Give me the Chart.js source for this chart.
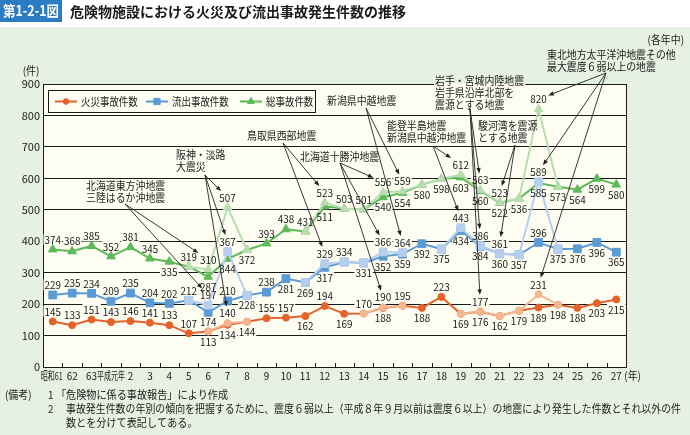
<!DOCTYPE html>
<html lang="ja">
<head>
<meta charset="utf-8">
<title>危険物施設における火災及び流出事故発生件数の推移</title>
<script src="https://cdn.jsdelivr.net/npm/chart.js@4.4.1/dist/chart.umd.min.js"></script>
<style>
  html, body { margin: 0; padding: 0; }
  body { width: 690px; height: 435px; background: #e6f1e1; position: relative; overflow: hidden; }
  #head { position: absolute; left: 0; top: 0; width: 690px; height: 27px; background: #fff; }
  #myChart { position: absolute; left: 0; top: 0; }
</style>
</head>
<body>
<div id="head"></div>
<canvas id="myChart" width="690" height="435"></canvas>
<script>
// 横軸（年）
var years = ['昭和61','62','63','平成元年','2','3','4','5','6','7','8','9','10','11','12','13',
             '14','15','16','17','18','19','20','21','22','23','24','25','26','27'];
// 地震分を除いた件数
var fire  = [145,133,151,143,146,141,133,107,113,134,144,155,157,162,194,169,170,188,195,188,223,169,176,162,179,189,198,188,203,215];
var leak  = [229,235,234,209,235,204,202,212,174,210,228,238,281,269,317,334,331,352,359,392,375,434,384,360,357,396,375,376,396,365];
var total = [374,368,385,352,381,345,335,319,287,344,372,393,438,431,511,503,501,540,554,580,598,603,560,522,536,585,573,564,599,580];
// 地震分を含めた件数（地震のあった年の前後だけ）
var fireEq  = [null,null,null,null,null,null,null,null,113,140,144,null,null,null,null,null,170,190,195,null,null,169,177,162,179,231,198,null,null,null];
var leakEq  = [null,null,null,null,null,null,null,212,197,367,228,null,null,269,329,334,331,366,364,null,375,443,386,361,357,589,375,null,null,null];
var totalEq = [null,null,null,null,null,null,null,319,310,507,372,null,null,431,523,503,501,556,559,580,598,612,563,523,536,820,573,null,null,null];
// 縦軸
var yMin = 0, yMax = 900, yStep = 100;

// 数値ラベルの位置 a:上 b:下
var fireLab  = 'aaaaaaaa' + 'bbbaabab' + 'ababab' + 'bbbbbbbb';
var leakLab  = 'aaaaaaaa' + 'bababbba' + 'bbbbbbbbb' + 'abbbb';
var totalLab = 'aaaaaa' + 'babbbaaa' + 'baa' + 'bbbbbbbbbbbbb';

var CREAM = '#fdfdf1', GREEN = '#e6f1e1', INK = '#1a1a1a';
var FONT = '"Noto Sans CJK JP", "Noto Sans", sans-serif';

// 地震の注記
var notes = [
  { lines: ['北海道東方沖地震', '三陸はるか沖地震'], x: 86, y: 186, src: [125, 204], to: [['totalEq', 8], ['leakEq', 8]] },
  { lines: ['阪神・淡路', '大震災'], x: 176, y: 155, src: [205, 175], to: [['totalEq', 9], ['leakEq', 9], ['fireEq', 9]] },
  { lines: ['鳥取県西部地震'], x: 247, y: 136, src: [283, 143], to: [['totalEq', 14], ['leakEq', 14]] },
  { lines: ['北海道十勝沖地震'], x: 300, y: 157, src: [340, 163], to: [['totalEq', 17], ['leakEq', 17], ['fireEq', 17]] },
  { lines: ['新潟県中越地震'], x: 327, y: 101, src: [366, 108], to: [['totalEq', 18], ['leakEq', 18]] },
  { lines: ['能登半島地震', '新潟県中越沖地震'], x: 387, y: 126, src: [433, 146], to: [['totalEq', 21], ['leakEq', 21]] },
  { lines: ['岩手・宮城内陸地震', '岩手県沿岸北部を', '震源とする地震'], x: 435, y: 81, src: [470, 109], to: [['totalEq', 22], ['leakEq', 22], ['fireEq', 22]] },
  { lines: ['駿河湾を震源', 'とする地震'], x: 478, y: 126, src: [515, 145], to: [['totalEq', 23], ['leakEq', 23]] },
  { lines: ['東北地方太平洋沖地震その他', '最大震度６弱以上の地震'], x: 547, y: 55, src: [606, 73], to: [['totalEq', 25], ['leakEq', 25], ['fireEq', 25]] }
];

function setFont(ctx, size, weight) { ctx.font = (weight || 'normal') + ' ' + size + 'px ' + FONT; }
function measure(ctx, s, size, sx) {
  ctx.save(); setFont(ctx, size); var w = ctx.measureText(s).width * sx; ctx.restore(); return w;
}
// 横に詰めた文字を書く
function put(ctx, s, x, y, o) {
  o = o || {};
  var size = o.size || 11, sx = o.sx || 0.9;
  ctx.save();
  setFont(ctx, size, o.weight);
  var w = ctx.measureText(s).width * sx;
  if (o.maxW && w > o.maxW) { sx = sx * o.maxW / w; w = o.maxW; }
  var left = o.align === 'center' ? x - w / 2 : (o.align === 'right' ? x - w : x);
  ctx.translate(left, y);
  ctx.scale(sx, 1);
  ctx.textAlign = 'left';
  ctx.textBaseline = 'middle';
  ctx.fillStyle = o.color || INK;
  ctx.fillText(s, 0, 0);
  ctx.restore();
  return w;
}

// 点の上下に置く数値ラベル
function valueLabels(chart) {
  var ctx = chart.ctx, out = {};
  chart.data.datasets.forEach(function (ds, di) {
    var meta = chart.getDatasetMeta(di);
    ds.data.forEach(function (v, i) {
      var p = ds.labPos[i];
      if (v == null || (p !== 'a' && p !== 'b')) return;
      var el = meta.data[i];
      var t = String(v);
      out[ds.key + ':' + i] = { t: t, cx: el.x, cy: p === 'a' ? el.y - 10 : el.y + 10, w: measure(ctx, t, 11, 0.9), h: 10 };
    });
  });
  return out;
}

function arrow(ctx, sx, sy, b) {
  var dx = b.cx - sx, dy = b.cy - sy;
  var hw = b.w / 2 + 1.5, hh = b.h / 2 + 1.5;
  var t = Math.max(1 - hw / Math.max(Math.abs(dx), 1e-6), 1 - hh / Math.max(Math.abs(dy), 1e-6));
  var ex = sx + dx * t, ey = sy + dy * t;
  var a = Math.atan2(ey - sy, ex - sx), c = Math.cos(a), s = Math.sin(a);
  ctx.beginPath(); ctx.moveTo(sx, sy); ctx.lineTo(ex - c * 3, ey - s * 3); ctx.stroke();
  ctx.beginPath();
  ctx.moveTo(ex, ey);
  ctx.lineTo(ex - 5.5 * c + 2.2 * s, ey - 5.5 * s - 2.2 * c);
  ctx.lineTo(ex - 5.5 * c - 2.2 * s, ey - 5.5 * s + 2.2 * c);
  ctx.closePath(); ctx.fill();
}

var decor = {
  id: 'decor',
  beforeDraw: function (chart) {
    var ctx = chart.ctx, a = chart.chartArea;
    ctx.save();
    ctx.fillStyle = CREAM;
    ctx.fillRect(a.left, a.top, a.right - a.left, a.bottom - a.top);
    ctx.restore();
  },
  beforeDatasetsDraw: function (chart) {
    var ctx = chart.ctx, a = chart.chartArea;
    chart.$labs = valueLabels(chart);
    ctx.save();
    ctx.fillStyle = CREAM;
    Object.keys(chart.$labs).forEach(function (k) {
      var b = chart.$labs[k];
      ctx.fillRect(b.cx - b.w / 2 - 1, b.cy - 5.5, b.w + 2, 11);
    });
    // 注記の下地（枠線を隠す）
    notes.forEach(function (n) {
      n.lines.forEach(function (s, li) {
        var w = measure(ctx, s, 11, 0.9), y = n.y + li * 12;
        var rx = n.x - 1, ry = y - 6, rw = w + 2, rh = 12;
        ctx.fillStyle = GREEN; ctx.fillRect(rx, ry, rw, rh);
        var y0 = Math.max(ry, a.top - 0.5), y1 = Math.min(ry + rh, a.bottom);
        if (y1 > y0) { ctx.fillStyle = CREAM; ctx.fillRect(rx, y0, rw, y1 - y0); }
      });
    });
    ctx.restore();
  },
  afterDatasetsDraw: function (chart) {
    var ctx = chart.ctx, a = chart.chartArea, xs = chart.scales.x;
    ctx.save();
    // 右の枠
    ctx.strokeStyle = INK; ctx.lineWidth = 1;
    ctx.beginPath(); ctx.moveTo(Math.round(a.right) + 0.5, a.top); ctx.lineTo(Math.round(a.right) + 0.5, a.bottom); ctx.stroke();
    // 下の目盛
    for (var k = 1; k < years.length; k++) {
      var tx = Math.round((xs.getPixelForValue(k - 1) + xs.getPixelForValue(k)) / 2) + 0.5;
      ctx.beginPath(); ctx.moveTo(tx, a.bottom); ctx.lineTo(tx, a.bottom - 4); ctx.stroke();
    }
    // 数値
    Object.keys(chart.$labs).forEach(function (k) {
      var b = chart.$labs[k];
      put(ctx, b.t, b.cx, b.cy, { align: 'center' });
    });
    // 注記と矢印
    ctx.strokeStyle = '#222'; ctx.fillStyle = '#222'; ctx.lineWidth = 0.9;
    notes.forEach(function (n) {
      n.to.forEach(function (t) {
        var b = chart.$labs[t[0] + ':' + t[1]];
        if (b) arrow(ctx, n.src[0], n.src[1], b);
      });
      n.lines.forEach(function (s, li) { put(ctx, s, n.x, n.y + li * 12); });
    });
    // 凡例
    var lx = 48.5, ly = 90.5;
    ctx.fillStyle = CREAM; ctx.fillRect(lx, ly, 267, 22);
    ctx.strokeStyle = INK; ctx.lineWidth = 1; ctx.strokeRect(lx, ly, 267, 22);
    var items = [[0, '火災事故件数', 55, 81], [1, '流出事故件数', 146, 172], [2, '総事故件数', 240, 266]];
    items.forEach(function (it) {
      var ds = chart.data.datasets[it[0]];
      ctx.strokeStyle = ds.borderColor; ctx.fillStyle = ds.borderColor; ctx.lineWidth = 2;
      ctx.beginPath(); ctx.moveTo(it[2], 101.5); ctx.lineTo(it[2] + 22, 101.5); ctx.stroke();
      ctx.lineWidth = 1;
      Chart.helpers.drawPoint(ctx, { pointStyle: ds.pointStyle, radius: ds.pointRadius * 0.8, rotation: 0, borderWidth: 1 }, it[2] + 11, 101.5);
      put(ctx, it[1], it[3], 101.5, { sx: 0.86 });
    });
    // 横軸ラベル（元号の入るものは詰めて書く）
    years.forEach(function (y, i) {
      var mw = y === '平成元年' ? 28 : 22;
      put(ctx, y, xs.getPixelForValue(i) - (i === 0 ? 1 : 0), a.bottom + 9, { align: 'center', maxW: mw });
    });
    put(ctx, '(年)', xs.getPixelForValue(years.length - 1) + 8, a.bottom + 9);
    put(ctx, '(件)', 31, 71, { align: 'center' });
    put(ctx, '(各年中)', 684, 40, { align: 'right' });
    // 表題
    ctx.fillStyle = '#2b7cc2'; ctx.fillRect(0, 0, 62, 22);
    put(ctx, '第1-2-1図', 31, 11, { size: 14, weight: 'bold', sx: 1, maxW: 56, align: 'center', color: '#fff' });
    put(ctx, '危険物施設における火災及び流出事故発生件数の推移', 70, 12, { size: 14, weight: 'bold', sx: 1, maxW: 336 });
    // 備考
    put(ctx, '(備考)', 5, 395, { maxW: 34 });
    put(ctx, '1', 48, 395);
    put(ctx, '「危険物に係る事故報告」により作成', 56, 395, { sx: 0.92 });
    put(ctx, '2', 48, 409);
    put(ctx, '事故発生件数の年別の傾向を把握するために、震度６弱以上（平成８年９月以前は震度６以上）の地震により発生した件数とそれ以外の件', 66, 409, { sx: 0.92, maxW: 615 });
    put(ctx, '数とを分けて表記してある。', 66, 423, { sx: 0.92 });
    ctx.restore();
  }
};

function series(key, data, labPos, color, style, radius, order) {
  return {
    key: key, data: data, labPos: labPos, order: order,
    borderColor: color, backgroundColor: color,
    pointBackgroundColor: color, pointBorderColor: color, pointBorderWidth: 1,
    pointStyle: style, pointRadius: radius, pointHoverRadius: radius,
    borderWidth: 2, tension: 0, spanGaps: false
  };
}
// 地震分を含む値は違う年にだけラベルを付ける
function eqLab(eq, base) {
  return eq.map(function (v, i) { return (v != null && v !== base[i]) ? 'a' : '.'; }).join('');
}

var ctx = document.getElementById('myChart');
new Chart(ctx, {
  type: 'line',
  data: {
    labels: years,
    datasets: [
      series('fire', fire, fireLab, '#e5622b', 'circle', 3.5, 1),
      series('leak', leak, leakLab, '#5b9bd5', 'rect', 5.5, 1),
      series('total', total, totalLab, '#5db95a', 'triangle', 5, 1),
      series('fireEq', fireEq, eqLab(fireEq, fire), '#f3b690', 'circle', 3.5, 0),
      series('leakEq', leakEq, eqLab(leakEq, leak), '#b6cfee', 'rect', 5.5, 0),
      series('totalEq', totalEq, eqLab(totalEq, total), '#b9ddb1', 'triangle', 5, 0)
    ]
  },
  options: {
    responsive: false,
    devicePixelRatio: 1,
    animation: false,
    events: [],
    layout: { padding: { left: 0, top: 84, right: 64, bottom: 68 } },
    plugins: { legend: { display: false }, tooltip: { enabled: false } },
    scales: {
      x: {
        offset: true,
        grid: { display: false },
        border: { color: INK, width: 1 },
        ticks: { display: false },
        afterFit: function (s) { s.height = 0; }
      },
      y: {
        min: yMin, max: yMax,
        ticks: { stepSize: yStep, color: INK, padding: 3, font: { size: 11, family: FONT } },
        grid: { color: INK, lineWidth: 1, drawTicks: false },
        border: { color: INK, width: 1 },
        afterFit: function (s) { s.width = 43; }
      }
    }
  },
  plugins: [decor]
});
</script>
</body>
</html>
